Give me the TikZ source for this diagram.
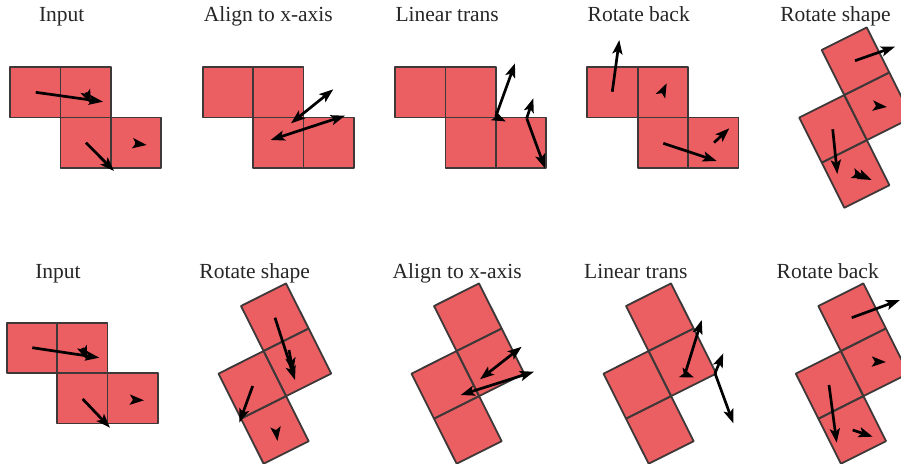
\documentclass[tikz,border=0pt]{standalone}
\usepackage{fontspec}
\setmainfont{Liberation Serif}
\usetikzlibrary{arrows.meta}
\definecolor{cellred}{RGB}{235,94,98}
\definecolor{celledge}{RGB}{62,56,56}
\tikzset{
  cellfill/.style={fill=cellred},
  cellline/.style={draw=celledge, line width=1.8pt, line join=round},
  vec/.style={line width=2.7pt, -{Stealth[length=14pt,width=10pt,inset=3pt]}},
  dvec/.style={line width=2.7pt, {Stealth[length=14pt,width=10pt,inset=3pt]}-{Stealth[length=14pt,width=10pt,inset=3pt]}},
  paneltitle/.style={font=\fontsize{21.5}{22}\selectfont, anchor=base, text=black!85, inner sep=0pt},
}
\newcommand\sq[3]{\path[#1] ({#2*50.4},{#3*50.4}) rectangle ++(50.4,50.4);}
% straight shape: cells (0,0),(1,0),(1,1),(2,1)
\newcommand\flatshape{\foreach \st in {cellfill,cellline}{\sq{\st}{0}{0}\sq{\st}{1}{0}\sq{\st}{1}{1}\sq{\st}{2}{1}}}
% rotated shape: cells (0,0),(0,1),(-1,1),(-1,2)
\newcommand\turnshape{\foreach \st in {cellfill,cellline}{\sq{\st}{0}{0}\sq{\st}{0}{1}\sq{\st}{-1}{1}\sq{\st}{-1}{2}}}
\begin{document}
\begin{tikzpicture}[x=1pt,y=-1pt]
\useasboundingbox (0,0) rectangle (901,463);
\clip (0,0) rectangle (901,463);
\fill[white] (0,0) rectangle (901,463);

% ---------- titles ----------
\node[paneltitle] (t1) at (61.7,21.7) {Input};
\node[paneltitle] (t2) at (268.3,21.7) {Align to x-axis};
\node[paneltitle] (t3) at (447.2,21.7) {Linear trans};
\node[paneltitle] (t4) at (638.7,21.7) {Rotate back};
\node[paneltitle] (t5) at (835.5,21.7) {Rotate shape};
\node[paneltitle] (b1) at (58,278) {Input};
\node[paneltitle] (b2) at (254.7,278) {Rotate shape};
\node[paneltitle] (b3) at (457.2,278) {Align to x-axis};
\node[paneltitle] (b4) at (635.8,278) {Linear trans};
\node[paneltitle] (b5) at (827.7,278) {Rotate back};

% ---------- top row shapes ----------
\begin{scope}[shift={(10,67)}] \flatshape \end{scope}
\begin{scope}[shift={(202.7,67)}] \flatshape \end{scope}
\begin{scope}[shift={(395,67)}] \flatshape \end{scope}
\begin{scope}[shift={(587.3,67)}] \flatshape \end{scope}
\begin{scope}[shift={(821.7,50)},rotate=26.6] \turnshape \end{scope}

% ---------- bottom row shapes ----------
\begin{scope}[shift={(6.7,322.7)}] \flatshape \end{scope}
\begin{scope}[shift={(241,306)},rotate=26.6] \turnshape \end{scope}
\begin{scope}[shift={(434,306)},rotate=26.6] \turnshape \end{scope}
\begin{scope}[shift={(626,306)},rotate=26.6] \turnshape \end{scope}
\begin{scope}[shift={(818.3,306)},rotate=26.6] \turnshape \end{scope}

% ---------- top row vectors ----------
% Input
\draw[vec] (86,92.5) -- (91,104);
\draw[vec] (35.7,92.3) -- (103,101.7);
\draw[vec] (86,142.7) -- (114,171);
\draw[vec] (135,143.5) -- (146.7,145);
% Align to x-axis
\draw[dvec] (291,123.3) -- (333.3,89.3);
\draw[dvec] (270.7,140) -- (345,115.7);
% Linear trans
\draw[vec] (495.7,116.7) -- (515,63.3);
\draw[vec] (495.7,116.7) -- (506,121.5);
\draw[vec] (526.7,118.3) -- (533.3,98.3);
\draw[vec] (526.7,118.3) -- (545,168.3);
% Rotate back
\draw[vec] (612.3,91.7) -- (619.3,40);
\draw[vec] (662,93) -- (666.7,83.3);
\draw[vec] (663.3,143.3) -- (716.7,161);
\draw[vec] (714,142.7) -- (729.3,128.3);
% Rotate shape
\draw[vec] (855,60.7) -- (895,46.7);
\draw[vec] (877,106) -- (887,107);
\draw[vec] (832.7,129.3) -- (837.3,174);
\draw[vec] (855,174) -- (866,178);
\draw[vec] (856,173) -- (871.7,180);

% ---------- bottom row vectors ----------
% Input
\draw[vec] (82.5,348) -- (87,360);
\draw[vec] (32.3,347.7) -- (99.3,357.7);
\draw[vec] (82.7,399) -- (110,427.7);
\draw[vec] (133,399.8) -- (144,400.3);
% Rotate shape
\draw[vec] (289,350) -- (293,372);
\draw[vec] (275,317.7) -- (295,380);
\draw[vec] (252.7,386) -- (239.3,422.7);
\draw[vec] (276,430) -- (277.5,441);
% Align to x-axis
\draw[dvec] (480,379.3) -- (521.7,346.7);
\draw[dvec] (460.7,395) -- (534,371.7);
% Linear trans
\draw[vec] (685,374) -- (701.7,320);
\draw[vec] (685,374) -- (694,377.5);
\draw[vec] (715,373.3) -- (723.3,353.3);
\draw[vec] (715,373.3) -- (733.3,423.3);
% Rotate back
\draw[vec] (851.7,317.7) -- (900,300);
\draw[vec] (875,361.7) -- (886,362);
\draw[vec] (829,385) -- (836.7,442.7);
\draw[vec] (852.7,430) -- (872.7,436.7);
\end{tikzpicture}
\end{document}
